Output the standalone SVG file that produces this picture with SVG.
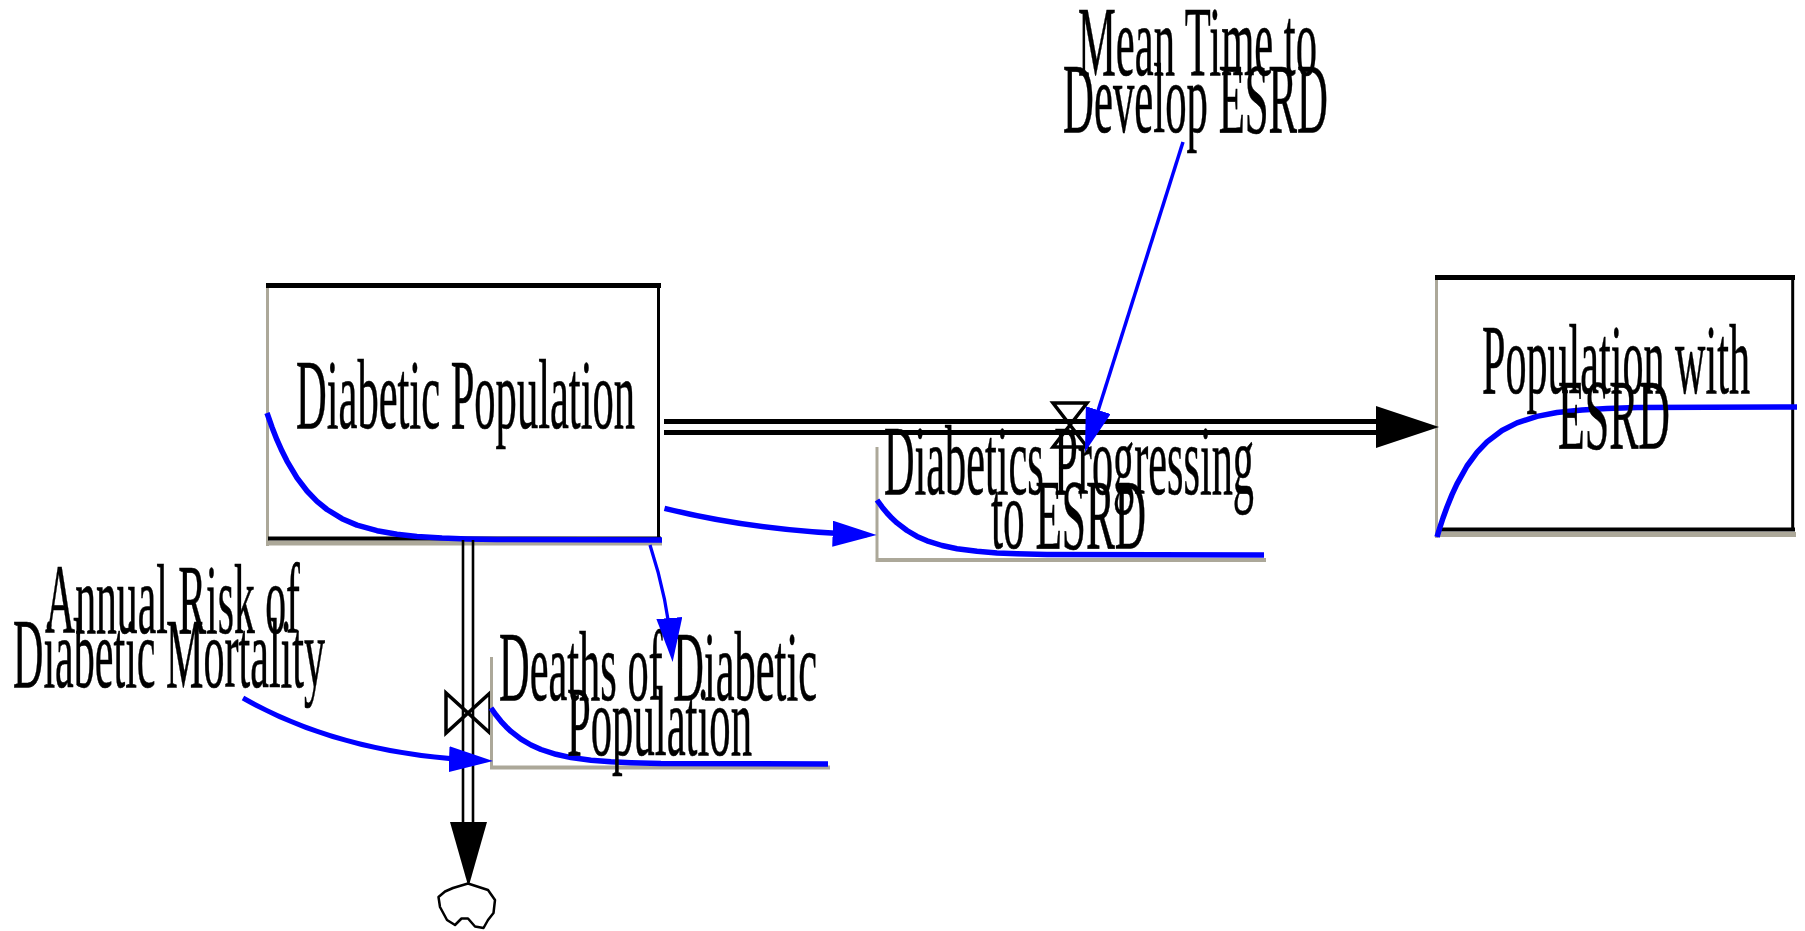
<svg xmlns="http://www.w3.org/2000/svg" width="1805" height="931" viewBox="0 0 1805 931">
  <style>
    .lbl { font-family: "Liberation Serif", "Times New Roman", serif; font-size: 100px; fill: #000; stroke: #000; stroke-width: 0.6; text-anchor: middle; }
    .spark { fill: none; stroke: #0000ff; stroke-width: 5.5; stroke-linejoin: round; stroke-linecap: butt; }
    .axis { fill: none; stroke: #aca899; }
    .edge-dark { fill: none; stroke: #000; }
    .pipe { fill: none; stroke: #000; }
    .valve { fill: none; stroke: #000; stroke-width: 3.5; stroke-linejoin: miter; }
    .link { fill: none; stroke: #0000ff; }
  </style>
  <defs>
    <marker id="arrow-link" markerUnits="userSpaceOnUse" viewBox="0 0 44 26" refX="34" refY="13" markerWidth="44" markerHeight="26" orient="auto">
      <path d="M0,0 L44,13 L0,26 Z" fill="#0000ff"/>
    </marker>
  </defs>

  <rect width="1805" height="931" fill="#fff"/>

  <!-- Stock: Diabetic Population -->
  <g id="diabetic-population">
    <rect x="267" y="285" width="392" height="254" fill="#fff"/>
    <line class="axis" x1="267.5" y1="283" x2="267.5" y2="546" stroke-width="3"/>
    <line class="edge-dark" x1="266" y1="285.5" x2="661" y2="285.5" stroke-width="5"/>
    <line class="edge-dark" x1="658.5" y1="285" x2="658.5" y2="540" stroke-width="3"/>
    <line class="axis" x1="268" y1="543" x2="662" y2="543" stroke-width="5"/>
    <line class="edge-dark" x1="268" y1="538.5" x2="661" y2="538.5" stroke-width="4"/>
    <polyline class="spark" points="267,413 272,427.2 277,439.9 282,451.1 287,461.1 297,477.8 307,491 317,501.4 327,509.5 342,518.7 357,525.1 377,530.7 397,534.3 417,536.4 442,538 467,538.9 497,539.5 662,540"/>
    <text class="lbl" x="465.5" y="428" textLength="339" lengthAdjust="spacingAndGlyphs">Diabetic Population</text>
  </g>

  <!-- Stock: Population with ESRD -->
  <g id="population-with-esrd">
    <rect x="1436" y="277" width="357" height="253" fill="#fff"/>
    <line class="axis" x1="1436.5" y1="275" x2="1436.5" y2="538" stroke-width="3"/>
    <line class="edge-dark" x1="1435" y1="277.5" x2="1795" y2="277.5" stroke-width="5"/>
    <line class="edge-dark" x1="1792.7" y1="277" x2="1792.7" y2="531" stroke-width="3"/>
    <line class="axis" x1="1437" y1="534.5" x2="1796" y2="534.5" stroke-width="5"/>
    <line class="edge-dark" x1="1437" y1="529.5" x2="1795" y2="529.5" stroke-width="4"/>
    <polyline class="spark" points="1437,537 1440,527.1 1443,518 1447,507 1452,494.6 1457,483.8 1467,466 1477,452.4 1487,441.9 1502,430.5 1517,422.9 1537,416.4 1557,412.5 1582,409.9 1607,408.5 1637,407.6 1797,407"/>
    <text class="lbl" x="1616" y="393" textLength="268" lengthAdjust="spacingAndGlyphs">Population with</text>
    <text class="lbl" x="1614" y="448" textLength="112" lengthAdjust="spacingAndGlyphs">ESRD</text>
  </g>

  <!-- Flow pipes, valves and sink -->
  <g id="flows">
    <!-- Diabetic Population to Population with ESRD -->
    <line class="pipe" x1="664" y1="421.5" x2="1378" y2="421.5" stroke-width="5"/>
    <line class="pipe" x1="664" y1="432.5" x2="1378" y2="432.5" stroke-width="5"/>
    <polygon points="1376,406 1376,448 1439,427" fill="#000"/>
    <path class="valve" d="M1053,403 H1087 L1053,447 H1087 Z"/>

    <!-- Diabetic Population to the sink -->
    <line class="pipe" x1="463" y1="540" x2="463" y2="824" stroke-width="2.6"/>
    <line class="pipe" x1="473" y1="540" x2="473" y2="824" stroke-width="2.6"/>
    <polygon points="450,822 487,822 468.5,887" fill="#000"/>
    <path class="valve" d="M446,693 V733 L490,693 V733 Z"/>
  </g>

  <g id="sink-cloud">
    <path d="M453,888 L468,883.5 L488,890 L495,900 L493.5,913 L488,920 L483.5,928 L475,926.5 L468,918.5 L461.5,918.5 L455,925 L447,920 L440,907 L438.5,897 L445,891.5 Z" fill="#fff" stroke="#000" stroke-width="2.5" stroke-linejoin="round"/>
  </g>

  <!-- Rate: Diabetics Progressing to ESRD -->
  <g id="diabetics-progressing-to-esrd">
    <line class="axis" x1="877" y1="447" x2="877" y2="562" stroke-width="3"/>
    <line class="axis" x1="876" y1="560" x2="1266" y2="560" stroke-width="4"/>
    <polyline class="spark" points="877,500 882,506.9 887,513 892,518.3 897,522.9 907,530.5 917,536.4 927,540.8 942,545.5 957,548.7 977,551.3 997,552.9 1017,553.7 1047,554.4 1264,555"/>
    <text class="lbl" x="1069" y="494" textLength="370" lengthAdjust="spacingAndGlyphs">Diabetics Progressing</text>
    <text class="lbl" x="1068.5" y="548" textLength="155" lengthAdjust="spacingAndGlyphs">to ESRD</text>
  </g>

  <!-- Rate: Deaths of Diabetic Population -->
  <g id="deaths-of-diabetic-population">
    <line class="axis" x1="491.5" y1="657" x2="491.5" y2="769" stroke-width="3"/>
    <line class="axis" x1="490" y1="767.5" x2="830" y2="767.5" stroke-width="4"/>
    <polyline class="spark" points="491,708 496,715.1 501,721.3 506,726.7 511,731.4 521,739.1 531,745 541,749.5 556,754.3 571,757.6 591,760.2 611,761.8 631,762.7 661,763.5 828,764"/>
    <text class="lbl" x="658" y="700" textLength="318" lengthAdjust="spacingAndGlyphs">Deaths of Diabetic</text>
    <text class="lbl" x="659.5" y="755" textLength="185" lengthAdjust="spacingAndGlyphs">Population</text>
  </g>

  <!-- Auxiliary: Annual Risk of Diabetic Mortality -->
  <g id="annual-risk-of-diabetic-mortality">
    <text class="lbl" x="172.5" y="633" textLength="255" lengthAdjust="spacingAndGlyphs">Annual Risk of</text>
    <text class="lbl" x="169" y="687" textLength="312" lengthAdjust="spacingAndGlyphs">Diabetic Mortality</text>
  </g>

  <!-- Auxiliary: Mean Time to Develop ESRD -->
  <g id="mean-time-to-develop-esrd">
    <text class="lbl" x="1197.5" y="75" textLength="239" lengthAdjust="spacingAndGlyphs">Mean Time to</text>
    <text class="lbl" x="1195.5" y="132" textLength="265" lengthAdjust="spacingAndGlyphs">Develop ESRD</text>
  </g>

  <!-- Information links -->
  <g id="links">
    <path class="link" d="M243,698 Q343,755 483,760.6" stroke-width="5" marker-end="url(#arrow-link)"/>
    <path class="link" d="M664.5,508.3 Q758,531.5 866.6,534.7" stroke-width="5.5" marker-end="url(#arrow-link)"/>
    <path class="link" d="M650,545 Q668,600 671.9,652" stroke-width="3.3" marker-end="url(#arrow-link)"/>
    <path class="link" d="M1183,142 L1088,442.5" stroke-width="3.5" marker-end="url(#arrow-link)"/>
  </g>
</svg>
